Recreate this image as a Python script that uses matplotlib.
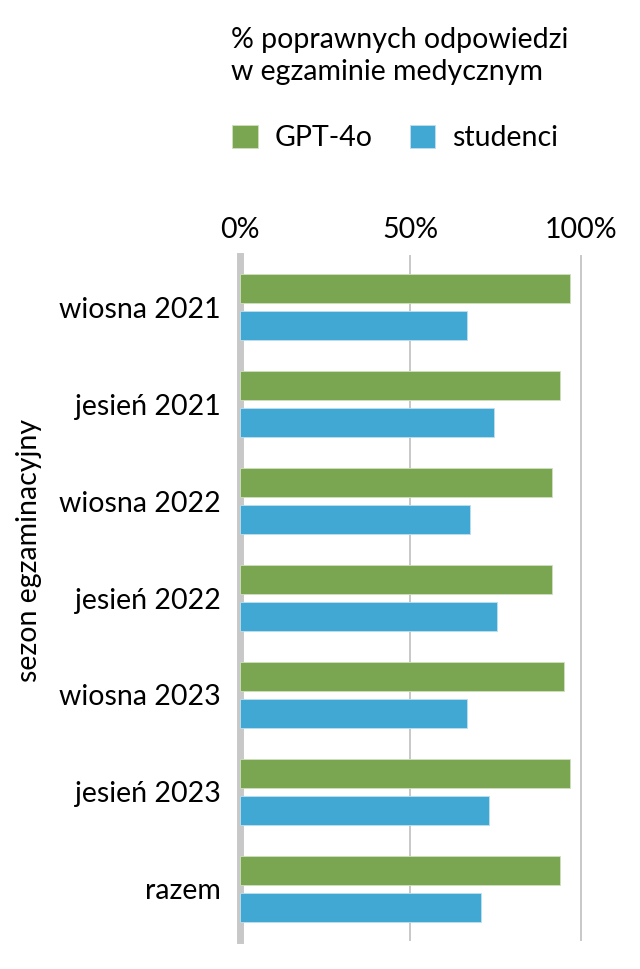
import numpy as np
import matplotlib
matplotlib.use('Agg')
import matplotlib.pyplot as plt

# Data
seasons = ['wiosna 2021', 'jesień 2021', 'wiosna 2022', 'jesień 2022',
           'wiosna 2023', 'jesień 2023', 'razem']
gpt4o = [97, 94, 91.6, 91.6, 95, 97, 94]
students = [66.6, 74.6, 67.6, 75.5, 66.6, 73.2, 70.7]
x_ticks = [0, 50, 100]
x_tick_labels = ['0%', '50%', '100%']

green = '#7aa651'
blue = '#41a7d3'
grid_col = '#c8c8c8'

plt.rcParams['font.family'] = ['Lato', 'DejaVu Sans']
fs = 20.5

fig = plt.figure(figsize=(6.4, 9.69), dpi=100)
ax = fig.add_axes([240 / 640, 29 / 969, 340.7 / 640, 684 / 969])

y = np.arange(len(seasons))
h = 0.30
off = 0.193

# gridlines
for t in x_ticks:
    lw = 5 if t == 0 else 1.4
    ax.axvline(t, color=grid_col, lw=lw, zorder=0, clip_on=False)

b1 = ax.barh(y - off, gpt4o, height=h, color=green, edgecolor='#cfe0bf',
             linewidth=0.6, label='GPT-4o', zorder=2)
b2 = ax.barh(y + off, students, height=h, color=blue, edgecolor='#bfe0ee',
             linewidth=0.6, label='studenci', zorder=2)

ax.set_xlim(0, 100)
ax.set_ylim(len(seasons) - 0.474, -0.526)
ax.set_yticks(y)
ax.set_yticklabels(seasons, fontsize=fs)
ax.set_xticks(x_ticks)
ax.set_xticklabels(x_tick_labels, fontsize=fs)
ax.xaxis.tick_top()
ax.tick_params(axis='x', length=0, pad=9)
ax.tick_params(axis='y', length=0, pad=14)
for s in ax.spines.values():
    s.set_visible(False)

fig.text(29 / 640, 1 - 550 / 969, 'sezon egzaminacyjny', rotation=90,
         fontsize=fs, ha='center', va='center')

fig.text(231 / 640, 1 - 27 / 969, '% poprawnych odpowiedzi\nw egzaminie medycznym',
         fontsize=fs, ha='left', va='top', linespacing=1.3)

fig.legend(handles=[b1, b2], loc='center left', bbox_to_anchor=(232 / 640, 1 - 138 / 969),
           ncol=2, frameon=False, fontsize=fs, handlelength=0.9, handleheight=0.9,
           handletextpad=0.6, columnspacing=1.3, borderaxespad=0, borderpad=0)

fig.savefig('out.png', dpi=100)
